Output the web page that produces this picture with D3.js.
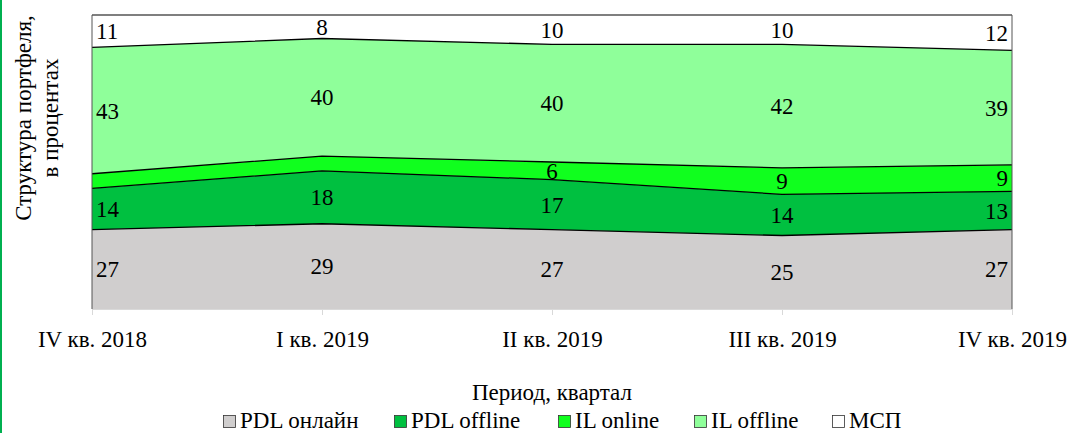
<!DOCTYPE html>
<html>
<head>
<meta charset="utf-8">
<style>
  body { margin: 0; background: #fff; }
</style>
</head>
<body>
<svg width="1071" height="433" font-family="Liberation Serif, Times New Roman, serif"></svg>
<script src="https://d3js.org/d3.v7.min.js"></script>
<script>

var periods = ["IV кв. 2018", "I кв. 2019", "II кв. 2019", "III кв. 2019", "IV кв. 2019"];
var seriesNames = ["PDL онлайн", "PDL offline", "IL online", "IL offline", "МСП"];
var pdlOnline = [27, 29, 27, 25, 27];
var pdlOffline = [14, 18, 17, 14, 13];
var ilOnline = [5, 5, 6, 9, 9];
var ilOffline = [43, 40, 40, 42, 39];
var msp = [11, 8, 10, 10, 12];

var colors = ["#d0cece", "#00c040", "#10ff1e", "#8fff9a", "#ffffff"];

var svg = d3.select("svg"),
    margin = {top: 15, left: 92, right: 59, bottom: 124},
    width = 1071 - margin.left - margin.right,
    height = 433 - margin.top - margin.bottom;

var serif = "Liberation Serif, Times New Roman, serif";
var fs = 23;

// left green edge
svg.append("rect").attr("x", 0).attr("y", 0).attr("width", 2).attr("height", 433).attr("fill", "#00b050");

var rows = periods.map(function(p, i) {
  return {period: p, s0: pdlOnline[i], s1: pdlOffline[i], s2: ilOnline[i], s3: ilOffline[i], s4: msp[i]};
});
var keys = ["s0", "s1", "s2", "s3", "s4"];

var stack = d3.stack().keys(keys).offset(d3.stackOffsetExpand);
var layers = stack(rows);

var x = d3.scalePoint().domain(periods).range([0, width]);
var y = d3.scaleLinear().domain([0, 1]).range([height, 0]);

var g = svg.append("g").attr("transform", "translate(" + margin.left + "," + margin.top + ")");

var area = d3.area()
    .x(function(d) { return x(d.data.period); })
    .y0(function(d) { return y(d[0]); })
    .y1(function(d) { return y(d[1]); });

g.selectAll(".layer")
  .data(layers)
  .enter().append("path")
    .attr("d", area)
    .attr("fill", function(d, i) { return colors[i]; });

var line = d3.line()
    .x(function(d) { return x(d.data.period); })
    .y(function(d) { return y(d[1]); });

g.selectAll(".edge")
  .data(layers.slice(0, 4))
  .enter().append("path")
    .attr("d", line)
    .attr("fill", "none")
    .attr("stroke", "#000")
    .attr("stroke-width", 1.3);

// frame
g.append("line").attr("x1", 0).attr("x2", width).attr("y1", 0).attr("y2", 0).attr("stroke", "#000").attr("stroke-width", 1.2);
g.append("line").attr("x1", 0).attr("x2", 0).attr("y1", 0).attr("y2", height).attr("stroke", "#555").attr("stroke-width", 1);
g.append("line").attr("x1", width).attr("x2", width).attr("y1", 0).attr("y2", height).attr("stroke", "#555").attr("stroke-width", 1);

// x axis
var xAxis = g.append("g")
    .attr("transform", "translate(0," + height + ")")
    .call(d3.axisBottom(x).tickSize(6));
xAxis.attr("font-family", serif).attr("font-size", fs);
xAxis.select(".domain").attr("stroke", "#d9d9d9");
xAxis.selectAll(".tick line").attr("stroke", "#d9d9d9");
xAxis.selectAll(".tick text")
    .attr("y", 38)
    .attr("dy", null)
    .attr("fill", "#000");

// data labels
layers.forEach(function(layer, li) {
  layer.forEach(function(d, i) {
    var v = rows[i][keys[li]];
    if (v < 6) return;
    var anchor = i === 0 ? "start" : (i === periods.length - 1 ? "end" : "middle");
    var dx = i === 0 ? 4 : (i === periods.length - 1 ? -4 : 0);
    g.append("text")
      .attr("x", x(d.data.period) + dx)
      .attr("y", y((d[0] + d[1]) / 2))
      .attr("dy", "0.35em")
      .attr("text-anchor", anchor)
      .attr("font-size", fs)
      .attr("fill", "#000")
      .text(v);
  });
});

// axis titles
svg.append("text")
    .attr("x", margin.left + width / 2)
    .attr("y", 400)
    .attr("text-anchor", "middle")
    .attr("font-size", fs)
    .text("Период, квартал");

var yt = svg.append("text")
    .attr("transform", "translate(31,118) rotate(-90)")
    .attr("text-anchor", "middle")
    .attr("font-size", fs);
yt.append("tspan").attr("x", 0).attr("y", 0).text("Структура портфеля,");
yt.append("tspan").attr("x", 0).attr("y", 27).text("в процентах");

// legend
var legendX = [223, 394, 558, 694, 832];
var legend = svg.selectAll(".legend")
  .data(seriesNames)
  .enter().append("g")
    .attr("transform", function(d, i) { return "translate(" + legendX[i] + ",428)"; });
legend.append("rect")
    .attr("x", 0.5).attr("y", -12.5)
    .attr("width", 12).attr("height", 12)
    .attr("fill", function(d, i) { return colors[i]; })
    .attr("stroke", "#333")
    .attr("stroke-width", 0.8);
legend.append("text")
    .attr("x", 17)
    .attr("y", 0)
    .attr("font-size", fs)
    .text(function(d) { return d; });

</script>
</body>
</html>
